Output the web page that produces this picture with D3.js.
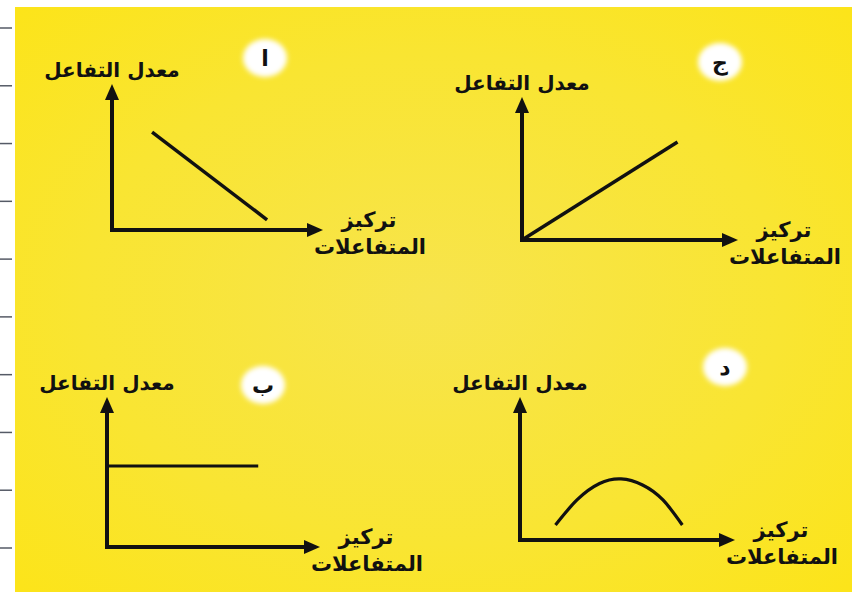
<!DOCTYPE html>
<html>
<head>
<meta charset="utf-8">
<script src="https://cdn.jsdelivr.net/npm/d3@7"></script>
<style>
  html, body { margin: 0; padding: 0; background: #ffffff; }
  svg text { font-family: "DejaVu Sans", sans-serif; font-weight: bold; fill: #111111; }
</style>
</head>
<body>
<div id="chart"></div>
<script>
var width = 854, height = 602;

// text
var panelLetters = ["ا", "ج", "ب", "د"];
var yLabels = ["معدل التفاعل", "معدل التفاعل", "معدل التفاعل", "معدل التفاعل"];
var xLabelTop = "تركيز";
var xLabelBottom = "المتفاعلات";

// curves (0-10 on each axis)
var seriesA = [{x: 1.9, y: 6.7}, {x: 7.35, y: 0.7}];          // decreasing
var seriesJ = [{x: 0, y: 0}, {x: 7.2, y: 6.85}];               // increasing
var seriesB = [{x: 0, y: 5.4}, {x: 7.1, y: 5.4}];              // constant
var seriesD = [{x: 1.65, y: 1.05}, {x: 2.65, y: 2.8}, {x: 3.7, y: 3.95},
               {x: 4.7, y: 4.27}, {x: 5.7, y: 3.85}, {x: 6.65, y: 2.8},
               {x: 7.55, y: 1.05}];                             // rise then fall
var seriesList = [seriesA, seriesJ, seriesB, seriesD];

// edge rule marks on the left border
var ruleMarks = d3.range(10);

// panel placement: origin of axes and arrow tips
var panels = [
  {ox: 112, oy: 230, xt: 323, yt: 84, badge: [265, 58], lw: 3.5},
  {ox: 522, oy: 240, xt: 738, yt: 97, badge: [720, 62], lw: 3.5},
  {ox: 107, oy: 547, xt: 320, yt: 397, badge: [263, 385], lw: 2.8},
  {ox: 520, oy: 540, xt: 735, yt: 397, badge: [725, 367], lw: 3.2}
];

var svg = d3.select("#chart")
  .append("svg")
  .attr("width", width)
  .attr("height", height);

var defs = svg.append("defs");

var grad = defs.append("radialGradient")
  .attr("id", "bg")
  .attr("cx", "50%").attr("cy", "50%").attr("r", "70%");
grad.append("stop").attr("offset", "0%").attr("stop-color", "#f7e44c");
grad.append("stop").attr("offset", "60%").attr("stop-color", "#f9e532");
grad.append("stop").attr("offset", "100%").attr("stop-color", "#fce41a");

var blur = defs.append("filter").attr("id", "soft")
  .attr("x", "-50%").attr("y", "-50%").attr("width", "200%").attr("height", "200%");
blur.append("feGaussianBlur").attr("stdDeviation", 2.5);

defs.append("marker")
  .attr("id", "arrow")
  .attr("markerUnits", "userSpaceOnUse")
  .attr("viewBox", "0 0 16 14")
  .attr("refX", 2)
  .attr("refY", 7)
  .attr("markerWidth", 16)
  .attr("markerHeight", 14)
  .attr("orient", "auto")
  .append("path")
  .attr("d", "M0,0 L16,7 L0,14 Z")
  .attr("fill", "#111");

// yellow card
svg.append("rect")
  .attr("x", 15)
  .attr("y", 7)
  .attr("width", 837)
  .attr("height", 585)
  .attr("fill", "url(#bg)");

// left border marks
var ruleScale = d3.scaleLinear().domain([0, 9]).range([28, 548]);
svg.append("g")
  .selectAll("line")
  .data(ruleMarks)
  .enter()
  .append("line")
  .attr("x1", 0)
  .attr("x2", 12)
  .attr("y1", d => ruleScale(d))
  .attr("y2", d => ruleScale(d))
  .attr("stroke", "#555a66")
  .attr("stroke-width", 1.5);

panels.forEach(function(p, i) {
  var g = svg.append("g").attr("class", "panel");

  var xScale = d3.scaleLinear().domain([0, 10]).range([p.ox, p.xt]);
  var yScale = d3.scaleLinear().domain([0, 10]).range([p.oy, p.yt]);

  // axes with arrows
  g.append("line")
    .attr("x1", xScale(0) - 2).attr("y1", yScale(0))
    .attr("x2", xScale(10) - 14).attr("y2", yScale(0))
    .attr("stroke", "#111").attr("stroke-width", 4)
    .attr("marker-end", "url(#arrow)");

  g.append("line")
    .attr("x1", xScale(0)).attr("y1", yScale(0) + 2)
    .attr("x2", xScale(0)).attr("y2", yScale(10) + 14)
    .attr("stroke", "#111").attr("stroke-width", 4)
    .attr("marker-end", "url(#arrow)");

  // curve
  var line = d3.line()
    .x(d => xScale(d.x))
    .y(d => yScale(d.y))
    .curve(seriesList[i].length > 2 ? d3.curveNatural : d3.curveLinear);

  g.append("path")
    .datum(seriesList[i])
    .attr("d", line)
    .attr("fill", "none")
    .attr("stroke", "#111")
    .attr("stroke-width", p.lw);

  // axis labels
  g.append("text")
    .attr("x", xScale(0))
    .attr("y", yScale(10) - 7)
    .attr("text-anchor", "middle")
    .style("font-size", "20px")
    .text(yLabels[i]);

  g.append("text")
    .attr("x", xScale(10) + 46)
    .attr("y", yScale(0) - 3)
    .attr("text-anchor", "middle")
    .style("font-size", "21px")
    .text(xLabelTop);

  g.append("text")
    .attr("x", xScale(10) + 47)
    .attr("y", yScale(0) + 24)
    .attr("text-anchor", "middle")
    .style("font-size", "21px")
    .text(xLabelBottom);

  // letter badge
  g.append("ellipse")
    .attr("cx", p.badge[0]).attr("cy", p.badge[1])
    .attr("rx", 22).attr("ry", 19)
    .attr("fill", "#ffffff")
    .attr("filter", "url(#soft)");

  g.append("text")
    .attr("x", p.badge[0])
    .attr("y", p.badge[1] + 8)
    .attr("text-anchor", "middle")
    .style("font-size", "22px")
    .text(panelLetters[i]);
});
</script>
</body>
</html>
